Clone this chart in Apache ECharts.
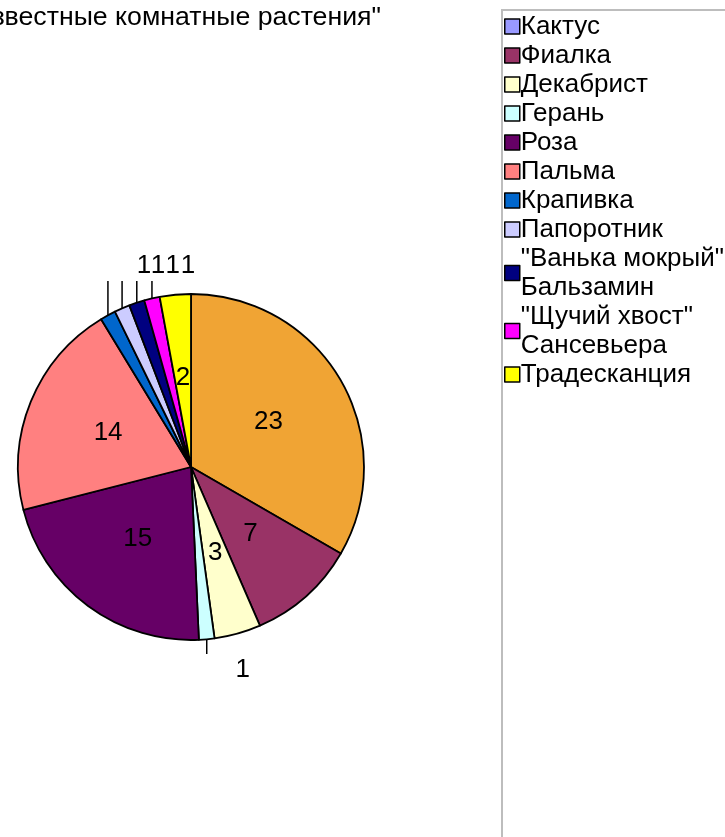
<!DOCTYPE html>
<html>
<head>
<meta charset="utf-8">
<script src="https://cdn.jsdelivr.net/npm/echarts@6/dist/echarts.min.js"></script>
<style>
  html, body { margin: 0; padding: 0; background: #fff; }
  #chart { width: 725px; height: 837px; }
</style>
</head>
<body>
<div id="chart"></div>
<script>
// ---- data ----
const titleText = 'Диаграмма "Самые известные комнатные растения"';
const categories = [
  'Кактус', 'Фиалка', 'Декабрист', 'Герань', 'Роза', 'Пальма',
  'Крапивка', 'Папоротник', '"Ванька мокрый"\nБальзамин',
  '"Щучий хвост"\nСансевьера', 'Традесканция'
];
const values = [23, 7, 3, 1, 15, 14, 1, 1, 1, 1, 2];
const sliceColors = [
  '#F0A434', '#993366', '#FFFFCC', '#CCFFFF', '#660066', '#FF8080',
  '#0066CC', '#CCCCFF', '#000080', '#FF00FF', '#FFFF00'
];
const legendColors = [
  '#9999FF', '#993366', '#FFFFCC', '#CCFFFF', '#660066', '#FF8080',
  '#0066CC', '#CCCCFF', '#000080', '#FF00FF', '#FFFF00'
];

// ---- layout constants ----
const CX = 191, CY = 467, R = 173;
const FONT = 'Liberation Sans, Arial, sans-serif';

const chart = echarts.init(document.getElementById('chart'), null, { renderer: 'canvas' });

const pieData = categories.map((name, i) => {
  const outside = values[i] <= 1;
  return {
    name: name,
    value: values[i],
    itemStyle: { color: sliceColors[i] },
    label: { position: outside ? 'outside' : 'inside' },
    labelLine: { show: outside }
  };
});

const legendData = categories.map((name, i) => ({
  name: name,
  itemStyle: { color: legendColors[i], borderColor: '#000', borderWidth: 1.5 }
}));

const option = {
  backgroundColor: '#ffffff',
  animation: false,
  title: {
    text: titleText,
    left: 381,
    top: 4,
    padding: 0,
    textAlign: 'right',
    textVerticalAlign: 'top',
    textStyle: { fontFamily: FONT, fontSize: 26.7, fontWeight: 'normal', color: '#000' }
  },
  graphic: [{
    type: 'rect',
    shape: { x: 502, y: 10, width: 400, height: 900 },
    style: { fill: 'none', stroke: '#BDBDBD', lineWidth: 2 },
    silent: true
  }],
  legend: {
    orient: 'vertical',
    left: 504,
    top: 12,
    padding: 0,
    itemGap: 0,
    itemWidth: 15,
    itemHeight: 15,
    icon: 'rect',
    selectedMode: false,
    data: legendData,
    textStyle: { fontFamily: FONT, fontSize: 26, color: '#000', lineHeight: 29, padding: [0, 0, 0, -4] }
  },
  series: [{
    type: 'pie',
    center: [CX, CY],
    radius: R,
    startAngle: 90,
    clockwise: true,
    avoidLabelOverlap: false,
    legendHoverLink: false,
    emphasis: { disabled: true },
    itemStyle: { borderColor: '#000', borderWidth: 1.8 },
    label: {
      show: true,
      formatter: '{c}',
      color: '#000',
      fontFamily: FONT,
      fontSize: 26,
      textBorderWidth: 0
    },
    labelLine: {
      show: false,
      length: 10,
      length2: 0,
      lineStyle: { color: '#000', width: 1.5 }
    },
    labelLayout: function (params) {
      if (values[params.dataIndex] > 1 || !params.labelLinePoints) return {};
      const p0 = params.labelLinePoints[0];
      const up = p0[1] < CY;
      const endY = up ? CY - R - 13 : CY + R + 14;
      return {
        x: p0[0] + 36,
        y: up ? endY - 15 : endY + 16,
        align: 'center',
        verticalAlign: 'middle',
        labelLinePoints: [[p0[0], p0[1]], [p0[0], endY], [p0[0], endY]]
      };
    },
    data: pieData
  }]
};

chart.setOption(option);
</script>
</body>
</html>
